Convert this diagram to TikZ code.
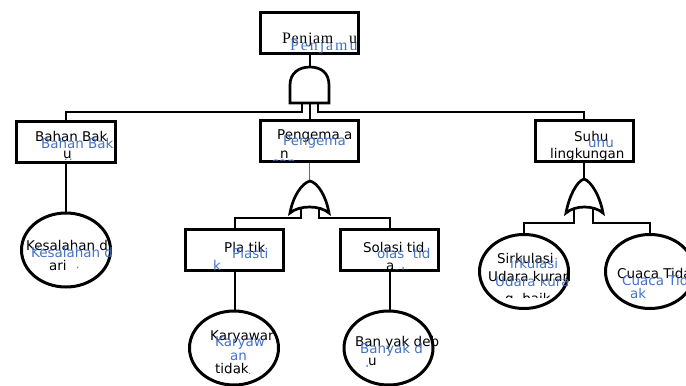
\documentclass[tikz,border=0pt]{standalone}
\usepackage{fontspec}
\setmainfont{DejaVu Sans}
\newfontfamily\serifb{Liberation Serif}
\usetikzlibrary{shapes.geometric}
\definecolor{tblue}{HTML}{4472C4}
\begin{document}
\begin{tikzpicture}[x=1bp,y=-1bp,
  box/.style={draw,line width=3bp,minimum width=98bp,minimum height=41bp,inner sep=0},
  ell/.style={draw,ellipse,line width=3bp,minimum width=89bp,minimum height=74bp,inner sep=0},
  gate/.style={draw,line width=2.7bp,fill=white},
  conn/.style={draw,line width=2bp},
  bt/.style={inner sep=0,anchor=west,font=\fontsize{13.5}{15}\selectfont},
  blt/.style={bt,text=tblue},
  st/.style={inner sep=0,anchor=west,font=\serifb\fontsize{16}{18}\selectfont\addfontfeature{LetterSpace=4}},
  bst/.style={inner sep=0,anchor=west,text=tblue,font=\serifb\fontsize{16}{18}\selectfont\addfontfeature{LetterSpace=12}},
]
\useasboundingbox (0,0) rectangle (686,385);
% shapes
\node[box] (top) at (309.5,33) {};
\node[box] (bb) at (66,141.5) {};
\node[box] (peng) at (309.5,141) {};
\node[box] (suhu) at (584,141) {};
\node[box] (plas) at (234.5,250) {};
\node[box] (sol) at (389.5,250) {};
\node[ell] (kes) at (66,250) {};
\node[ell] (sirk) at (524,271.5) {};
\node[ell] (cuaca) at (650,271.5) {};
\node[ell] (kary) at (234,348) {};
\node[ell] (ban) at (388.5,348) {};
% gate pins
\coordinate (andTop) at (310,67);
\coordinate (andL) at (302,103);
\coordinate (andM) at (310,103);
\coordinate (andR) at (318,103);
\coordinate (or1Top) at (310,181);
\coordinate (or1L) at (301,208);
\coordinate (or1R) at (319,208);
\coordinate (or2Top) at (584,179);
\coordinate (or2L) at (574,209);
\coordinate (or2R) at (593,209);
% connectors
\draw[conn] (top.south) -- (top.south |- andTop);
\draw[conn] (andL) -- ++(0,9) -| (bb.north);
\draw[conn] (andR) -- ++(0,9) -| (suhu.north);
\draw[conn] (andM) -- (andM |- peng.north);
\draw[line width=1.2bp,tblue] (peng.south) -- (peng.south |- or1Top);
\draw[conn] (or1L) -- ++(0,10) -| (plas.north);
\draw[conn] (or1R) -- ++(0,10) -| (sol.north);
\draw[conn] (suhu.south) -- (suhu.south |- or2Top);
\draw[conn] (or2L) -- ++(0,14) -| (sirk.north);
\draw[conn] (or2R) -- ++(0,14) -| (cuaca.north);
\draw[conn] (bb.south) -- (bb.south |- kes.north);
\draw[conn] (plas.south) -- (plas.south |- kary.north);
\draw[conn] (sol.south) -- (sol.south |- ban.north);
% gates
\path[gate] (290,103) -- (290,85) .. controls (290,73) and (299,67) .. (andTop)
  .. controls (321,67) and (329,73) .. (329,85) -- (329,103) -- cycle;
\path[gate] (290,213) .. controls (293,196) and (302,183) .. (or1Top)
  .. controls (318,183) and (326,196) .. (329,213)
  .. controls (320,205) and (299,205) .. cycle;
\path[gate] (566,213) .. controls (569,196) and (577,181) .. (or2Top)
  .. controls (591,181) and (600,196) .. (603,213)
  .. controls (594,205) and (575,205) .. cycle;
% texts: top
\node[st] (t1) at (282,40) {Penjam};
\node[st] (t1b) at (349,40) {u};
\begin{scope}\clip (258,10) rectangle (358,54);
\node[bst] (t2) at (290,47) {Penjamu};
\end{scope}
% Bahan Baku
\node[bt] (t3) at (35,136) {Bahan Bak};
\node[bt] (t4) at (63,155) {u};
\node[blt] (t5) at (41,143) {Bahan Bak};
\begin{scope}\clip (15,120) rectangle (117,159);
\node[blt] (t6) at (64,163) {u};
\end{scope}
% Pengemasan
\node[bt] (t7) at (277,136) {Pengema a};
\node[bt] (t8) at (280,155) {n};
\node[blt] (t9) at (283,142) {Pengema};
\begin{scope}\clip (259,120) rectangle (360,160);
\node[blt] (t10) at (272,164) {san};
\end{scope}
% Suhu
\node[bt] (t11) at (574,136) {Suhu};
\node[bt] (t12) at (550,155) {lingkungan};
\node[blt] (t13) at (588,142) {uhu};
% Plastik
\node[bt] (t14) at (224,247) {Pla tik};
\node[blt] (t15) at (232,253) {Plasti};
\node[blt] (t16) at (213,265) {k};
% Solasi
\node[bt] (t17) at (363,247) {Solasi tid};
\node[bt] (t18) at (386,267) {a};
\node[blt] (t19) at (377,253) {olas\ \ tid};
\begin{scope}\clip (340,228) rectangle (440,269);
\node[blt] (t20) at (393,272) {ak};
\end{scope}
% Kesalahan
\node[bt] (t21) at (26,245) {Kesalahan d};
\node[bt] (t22) at (49,265) {ari};
\node[blt] (t23) at (31,252) {Kesalahan d};
\begin{scope}\clip (20,212) rectangle (112,268);
\node[blt] (t24) at (62,272) {ari};
\end{scope}
% Karyawan
\node[bt] (t25) at (210,337) {Karyawar};
\node[bt] (t26) at (215,368) {tidak};
\node[blt] (t27) at (215,343) {Karyaw};
\node[blt] (t28) at (230,357) {an};
\begin{scope}\clip (188,310) rectangle (280,373);
\node[blt] (t29) at (222,378) {tidak};
\end{scope}
% Banyak
\node[bt] (t30) at (355,343) {Ban yak deb};
\node[bt] (t31) at (368,362) {u};
\node[blt] (t32) at (360,350) {Banyak d};
\begin{scope}\clip (343,310) rectangle (433,366);
\node[blt] (t33) at (357,370) {ebu};
\end{scope}
% Sirkulasi
\node[bt] (t34) at (497,258) {Sirkulasi};
\node[blt] (t35) at (510,263) {irkulasi};
\begin{scope}\clip (478,232) rectangle (570,297);
\node[bt] (t36) at (488,278) {Udara kurang};
\node[bt] (t37) at (505,300) {g\ \ baik};
\end{scope}
\begin{scope}\clip (478,232) rectangle (567,297);
\node[blt] (t38) at (495,283) {Udara kurang};
\end{scope}
% Cuaca
\node[bt] (t39) at (617,273) {Cuaca Tidak};
\node[blt] (t40) at (622,280) {Cuaca Tidak};
\node[blt] (t41) at (630,293) {ak};
\end{tikzpicture}
\end{document}
